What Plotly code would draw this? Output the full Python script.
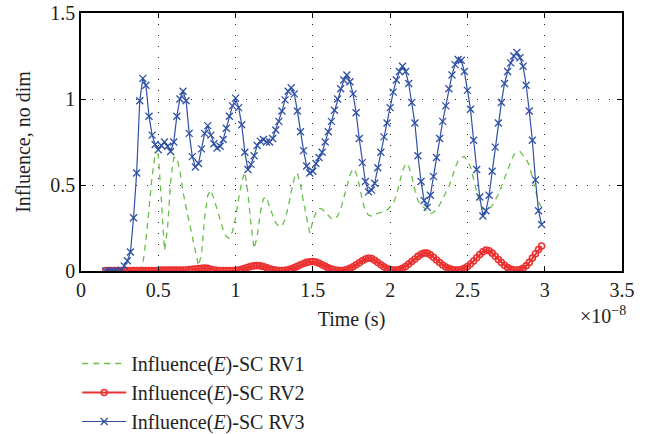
import plotly.graph_objects as go

# time in units of 1e-8 s
time = [0.16, 0.18, 0.20, 0.22, 0.24, 0.26, 0.28, 0.30, 0.32, 0.34, 0.36, 0.38, 0.40, 0.42, 0.44, 0.46, 0.48, 0.50, 0.52, 0.54,
        0.56, 0.58, 0.60, 0.62, 0.64, 0.66, 0.68, 0.70, 0.72, 0.74, 0.76, 0.78, 0.80, 0.82, 0.84, 0.86, 0.88, 0.90, 0.92, 0.94,
        0.96, 0.98, 1.00, 1.02, 1.04, 1.06, 1.08, 1.10, 1.12, 1.14, 1.16, 1.18, 1.20, 1.22, 1.24, 1.26, 1.28, 1.30, 1.32, 1.34,
        1.36, 1.38, 1.40, 1.42, 1.44, 1.46, 1.48, 1.50, 1.52, 1.54, 1.56, 1.58, 1.60, 1.62, 1.64, 1.66, 1.68, 1.70, 1.72, 1.74,
        1.76, 1.78, 1.80, 1.82, 1.84, 1.86, 1.88, 1.90, 1.92, 1.94, 1.96, 1.98, 2.00, 2.02, 2.04, 2.06, 2.08, 2.10, 2.12, 2.14,
        2.16, 2.18, 2.20, 2.22, 2.24, 2.26, 2.28, 2.30, 2.32, 2.34, 2.36, 2.38, 2.40, 2.42, 2.44, 2.46, 2.48, 2.50, 2.52, 2.54,
        2.56, 2.58, 2.60, 2.62, 2.64, 2.66, 2.68, 2.70, 2.72, 2.74, 2.76, 2.78, 2.80, 2.82, 2.84, 2.86, 2.88, 2.90, 2.92, 2.94,
        2.96, 2.98]

rv1 = [0, 0, 0, 0, 0, 0, 0, 0, 0, 0, 0, 0, 0.04, 0.18, 0.36, 0.55, 0.68, 0.68, 0.41, 0.12,
       0.25, 0.52, 0.66, 0.66, 0.58, 0.46, 0.37, 0.28, 0.20, 0.12, 0.03, 0.10, 0.31, 0.44, 0.47, 0.42, 0.36, 0.30, 0.24, 0.20,
       0.19, 0.23, 0.31, 0.42, 0.52, 0.575, 0.45, 0.27, 0.13, 0.20, 0.34, 0.42, 0.43, 0.37, 0.32, 0.28, 0.26, 0.26, 0.30, 0.37,
       0.46, 0.54, 0.57, 0.50, 0.40, 0.31, 0.22, 0.29, 0.34, 0.365, 0.36, 0.34, 0.32, 0.305, 0.30, 0.32, 0.36, 0.42, 0.49, 0.56,
       0.595, 0.57, 0.50, 0.41, 0.35, 0.325, 0.32, 0.33, 0.335, 0.34, 0.345, 0.355, 0.37, 0.39, 0.44, 0.51, 0.58, 0.625, 0.61, 0.55,
       0.47, 0.41, 0.38, 0.37, 0.34, 0.335, 0.34, 0.36, 0.385, 0.42, 0.455, 0.49, 0.54, 0.60, 0.64, 0.66, 0.665, 0.64, 0.605, 0.53,
       0.46, 0.40, 0.36, 0.355, 0.36, 0.38, 0.41, 0.445, 0.49, 0.54, 0.59, 0.635, 0.675, 0.69, 0.695, 0.675, 0.65, 0.615, 0.54, 0.46,
       0.40, 0.37]

rv2 = [0.003, 0.003, 0.003, 0.003, 0.003, 0.003, 0.003, 0.003, 0.003, 0.003, 0.003, 0.003, 0.003, 0.003, 0.003, 0.003, 0.003, 0.003, 0.005, 0.005,
       0.005, 0.005, 0.005, 0.005, 0.005, 0.005, 0.006, 0.008, 0.010, 0.012, 0.014, 0.016, 0.017, 0.015, 0.010, 0.006, 0.004, 0.003, 0.003, 0.003,
       0.003, 0.003, 0.003, 0.005, 0.010, 0.016, 0.022, 0.027, 0.030, 0.031, 0.030, 0.026, 0.020, 0.013, 0.008, 0.005, 0.003, 0.003, 0.004, 0.007,
       0.013, 0.020, 0.028, 0.036, 0.044, 0.050, 0.054, 0.055, 0.052, 0.045, 0.036, 0.027, 0.018, 0.011, 0.006, 0.004, 0.003, 0.004, 0.008, 0.015,
       0.025, 0.036, 0.048, 0.060, 0.070, 0.076, 0.073, 0.062, 0.049, 0.036, 0.024, 0.014, 0.008, 0.005, 0.005, 0.008, 0.015, 0.026, 0.040, 0.055,
       0.070, 0.085, 0.097, 0.105, 0.104, 0.094, 0.080, 0.064, 0.049, 0.035, 0.023, 0.014, 0.008, 0.005, 0.005, 0.008, 0.015, 0.026, 0.041, 0.058,
       0.077, 0.096, 0.112, 0.122, 0.118, 0.104, 0.086, 0.067, 0.049, 0.033, 0.020, 0.011, 0.006, 0.005, 0.008, 0.016, 0.030, 0.050, 0.075, 0.100,
       0.125, 0.145]

rv3 = [0, 0, 0, 0, 0, 0.005, 0.03, 0.06, 0.11, 0.31, 0.57, 0.99, 1.12, 1.08, 0.90, 0.79, 0.735, 0.705, 0.73, 0.75,
       0.725, 0.695, 0.75, 0.90, 1.00, 1.045, 0.99, 0.80, 0.665, 0.605, 0.625, 0.71, 0.80, 0.845, 0.79, 0.74, 0.715, 0.725, 0.765, 0.83,
       0.90, 0.96, 1.005, 0.95, 0.85, 0.69, 0.59, 0.62, 0.67, 0.73, 0.755, 0.765, 0.75, 0.75, 0.77, 0.82, 0.87, 0.93, 0.995, 1.045,
       1.065, 1.03, 0.93, 0.81, 0.70, 0.61, 0.57, 0.58, 0.625, 0.66, 0.69, 0.75, 0.81, 0.87, 0.935, 1.00, 1.06, 1.11, 1.14, 1.10,
       1.03, 0.92, 0.77, 0.63, 0.52, 0.46, 0.47, 0.51, 0.60, 0.69, 0.78, 0.86, 0.95, 1.04, 1.11, 1.16, 1.19, 1.16, 1.09, 0.98,
       0.86, 0.67, 0.52, 0.41, 0.37, 0.44, 0.55, 0.66, 0.77, 0.87, 0.96, 1.06, 1.14, 1.20, 1.23, 1.225, 1.16, 1.05, 0.94, 0.76,
       0.59, 0.43, 0.32, 0.35, 0.44, 0.58, 0.72, 0.86, 0.98, 1.09, 1.16, 1.21, 1.25, 1.27, 1.24, 1.19, 1.08, 0.93, 0.76, 0.53,
       0.35, 0.27]

x_ticks = [0, 0.5, 1, 1.5, 2, 2.5, 3, 3.5]
y_ticks = [0, 0.5, 1, 1.5]
names = ["Influence(<i>E</i>)-SC RV1", "Influence(<i>E</i>)-SC RV2", "Influence(<i>E</i>)-SC RV3"]

GREEN = "#6abf4b"
RED = "#ec3030"
BLUE = "#3050a5"
FONT = "Liberation Serif"

fig = go.Figure()
fig.add_trace(go.Scatter(x=time, y=rv1, mode="lines", name=names[0],
                         line=dict(color=GREEN, width=1.3, dash="6px,5px")))
fig.add_trace(go.Scatter(x=time, y=rv2, mode="lines+markers", name=names[1],
                         line=dict(color=RED, width=2),
                         marker=dict(symbol="circle-open", size=6, color=RED, line=dict(width=1.6, color=RED))))
fig.add_trace(go.Scatter(x=time, y=rv3, mode="lines+markers", name=names[2],
                         line=dict(color=BLUE, width=1.2),
                         marker=dict(symbol="x-thin-open", size=7, color=BLUE, line=dict(width=1.3, color=BLUE))))

axis_common = dict(showline=True, linecolor="black", linewidth=1.5, mirror="ticks",
                   ticks="inside", ticklen=5, tickcolor="black", tickwidth=1,
                   showgrid=True, gridcolor="#222222", gridwidth=1, griddash="1px,10px",
                   zeroline=False, ticklabeloverflow="allow",
                   tickfont=dict(family=FONT, size=20, color="#222"))

fig.update_xaxes(range=[0, 3.5], tickvals=x_ticks, ticktext=[f"{v:g}" for v in x_ticks],
                 title=dict(text="Time (s)", font=dict(family=FONT, size=20, color="#222"), standoff=12),
                 **axis_common)
fig.update_yaxes(range=[0, 1.5], tickvals=y_ticks, ticktext=[f"{v:g}" for v in y_ticks],
                 title=dict(text="Influence, no dim", font=dict(family=FONT, size=20, color="#222"), standoff=14),
                 **axis_common)

fig.add_annotation(text="×10<sup>−8</sup>", xref="paper", yref="paper", x=1.012, y=-0.116,
                   xanchor="right", yanchor="top", showarrow=False,
                   font=dict(family=FONT, size=20, color="#222"))

fig.update_layout(
    width=656, height=434,
    margin=dict(l=81, r=34, t=13, b=163, autoexpand=False),
    paper_bgcolor="white", plot_bgcolor="white",
    font=dict(family=FONT, size=20, color="#222"),
    showlegend=True,
    legend=dict(x=-0.007, y=-0.283, xanchor="left", yanchor="top", bgcolor="rgba(0,0,0,0)",
                itemwidth=44,
                font=dict(family=FONT, size=20, color="#222"), tracegroupgap=0),
)

# remove the default page-body margin so the figure sits at the window's top-left corner
fig.write_html("out.html", config={"displayModeBar": False},
               post_script="document.body.style.margin='0';")
